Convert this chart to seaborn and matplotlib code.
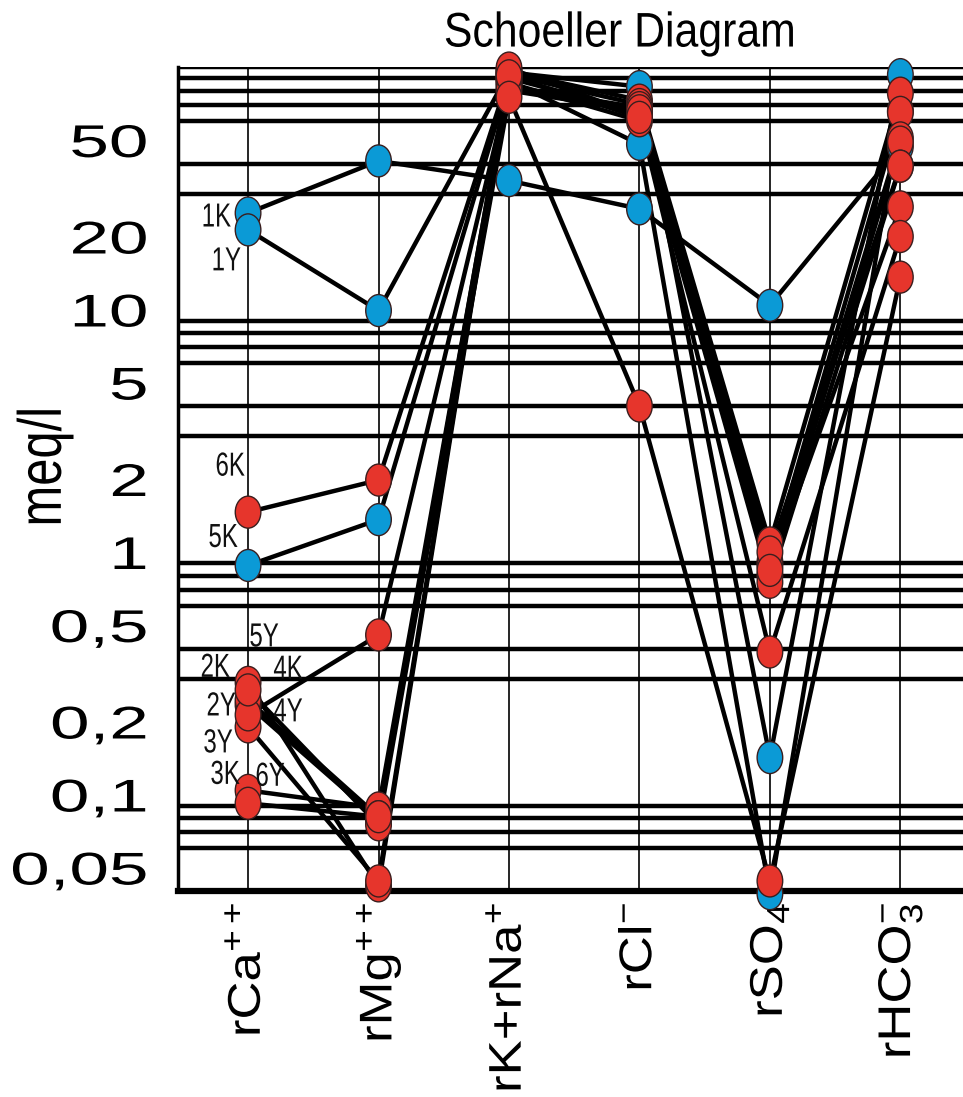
import numpy as np
import pandas as pd
import matplotlib
matplotlib.use("Agg")
import matplotlib.pyplot as plt
import seaborn as sns
from matplotlib.path import Path
from matplotlib.transforms import Affine2D
from matplotlib.patheffects import AbstractPathEffect
from matplotlib.ticker import LogLocator, NullFormatter

# ---------------- data ----------------
ions = ["rCa", "rMg", "rK+rNa", "rCl", "rSO4", "rHCO3"]
ion_labels = [r"rCa$^{++}$", r"rMg$^{++}$", r"rK+rNa$^{+}$", r"rCl$^{-}$",
              r"rSO$_{4}$", r"rHCO$_{3}^{-}$"]
samples = ["1K", "1Y", "5K", "2K", "2Y", "3K", "3Y", "4K", "4Y", "5Y", "6K", "6Y"]
groups = ["blue", "blue", "blue", "red", "red", "red", "red", "red", "red", "red", "red", "red"]

rCa = [25, 21.3, 0.88, 0.29, 0.234, 0.104, 0.19, 0.245, 0.213, 0.27, 1.46, 0.092]
rMg = [41, 9.9, 1.36, 0.042, 0.079, 0.088, 0.044, 0.081, 0.455, 0.075, 1.98, 0.081]
rKNa = [34, 95, 88, 96, 93, 90, 99, 86, 83, 80, 92, 75]
rCl = [26, 83, 48, 73, 70, 65, 63, 60, 68, 66, 62, 4.0]
rSO4 = [10.4, 0.142, 0.039, 1.09, 0.91, 0.88, 0.80, 0.75, 1.0, 0.84, 0.387, 0.044]
rHCO3 = [47, 93, 66, 78, 65, 51, 49, 39, 39, 26.5, 20, 13.6]

ytick_values = [0.05, 0.1, 0.2, 0.5, 1, 2, 5, 10, 20, 50]
ytick_labels = ["0,05", "0,1", "0,2", "0,5", "1", "2", "5", "10", "20", "50"]

# label offsets (pixels) of the sample names relative to their rCa point
label_offsets = {"1K": (-32, -5), "1Y": (-22, -32), "6K": (-18, 45), "5K": (-25, 27),
                 "5Y": (16, 52), "2K": (-33, 14), "4K": (40, 30), "2Y": (-27, -2),
                 "4Y": (40, 2), "3Y": (-30, -17), "3K": (-23, 15), "6Y": (22, 26)}

BLUE = "#0B9AD6"
RED = "#E6352C"
EDGE = "#3a1e1e"


class Stretch(AbstractPathEffect):
    """Horizontally stretch text glyphs (in the text's own frame)."""

    def __init__(self, sx, anchor="center"):
        super().__init__()
        self.sx = sx
        self.anchor = anchor

    def draw_path(self, renderer, gc, tpath, affine, rgbFace=None):
        ext = tpath.get_extents()
        if self.anchor == "right":
            x0 = ext.x1
        elif self.anchor == "left":
            x0 = ext.x0
        else:
            x0 = 0.5 * (ext.x0 + ext.x1)
        pre = Affine2D().translate(-x0, 0).scale(self.sx, 1.0).translate(x0, 0)
        renderer.draw_path(gc, tpath, pre + affine, rgbFace)


sns.set_theme(style="white")
plt.rcParams["font.family"] = ["Liberation Sans", "DejaVu Sans"]
plt.rcParams["mathtext.fontset"] = "custom"
plt.rcParams["mathtext.rm"] = "Liberation Sans"
plt.rcParams["mathtext.it"] = "Liberation Sans:italic"
plt.rcParams["mathtext.bf"] = "Liberation Sans:bold"
plt.rcParams["mathtext.default"] = "regular"

values = {"rCa": rCa, "rMg": rMg, "rK+rNa": rKNa, "rCl": rCl, "rSO4": rSO4, "rHCO3": rHCO3}
rows = []
for i, s in enumerate(samples):
    for j, ion in enumerate(ions):
        rows.append({"sample": s, "group": groups[i], "pos": j, "ion": ion,
                     "value": values[ion][i]})
df = pd.DataFrame(rows)

W, H = 963, 1097
fig = plt.figure(figsize=(W / 100, H / 100), dpi=100)
ax = fig.add_axes([178 / W, 1 - 891 / H, 1 - 178 / W, (891 - 67) / H])
ax.set_yscale("log")

sns.lineplot(data=df, x="pos", y="value", units="sample", estimator=None,
             color="black", lw=3.2, sort=False, legend=False, ax=ax,
             zorder=3, clip_on=False)

ellipse = Affine2D().scale(0.8, 1.0).transform_path(Path.unit_circle())
sns.scatterplot(data=df, x="pos", y="value", hue="group",
                palette={"blue": BLUE, "red": RED}, marker=ellipse, s=530,
                edgecolor=EDGE, linewidth=1.0, legend=False, ax=ax,
                zorder=4, clip_on=False)

ax.set_ylim(0.04, 100)
ax.set_xlim(-0.537, 5.48)

ax.set_yticks(ytick_values, ytick_labels)
ax.yaxis.set_minor_locator(LogLocator(base=10, subs=np.arange(1, 10), numticks=60))
ax.yaxis.set_minor_formatter(NullFormatter())
ax.set_xticks(range(len(ions)), ion_labels)

ax.yaxis.grid(True, which="minor", color="black", lw=3.2)
ax.yaxis.grid(False, which="major")
ax.xaxis.grid(True, which="major", color="black", lw=1.2)
ax.set_axisbelow(True)

for side in ["top", "right"]:
    ax.spines[side].set_visible(False)
ax.spines["left"].set_color("black")
ax.spines["left"].set_linewidth(2.5)
ax.spines["bottom"].set_color("black")
ax.spines["bottom"].set_linewidth(4.5)

ax.tick_params(axis="both", which="both", length=0)
ax.tick_params(axis="y", labelsize=33, pad=22, colors="black")
ax.tick_params(axis="x", labelsize=33, pad=8, colors="black", labelrotation=90)

for lab in ax.get_yticklabels():
    lab.set_path_effects([Stretch(1.55, "right")])
for lab in ax.get_xticklabels():
    lab.set_path_effects([Stretch(1.15, "right")])

ax.set_xlabel("")
ax.set_ylabel("meq/l", fontsize=44, color="black")
ax.yaxis.set_label_coords(-0.169, 0.515)
ax.yaxis.label.set_va("center")
ax.yaxis.label.set_path_effects([Stretch(0.8)])

ax.text(0.563, 1.04, "Schoeller Diagram", transform=ax.transAxes,
        ha="center", va="center", fontsize=35, color="black",
        path_effects=[Stretch(0.88)])

for i, s in enumerate(samples):
    dx, dy = label_offsets[s]
    ax.annotate(s, xy=(0, rCa[i]), xytext=(dx, dy), textcoords="offset pixels",
                ha="center", va="center", fontsize=24, color="#111111",
                path_effects=[Stretch(0.72)], zorder=6)

fig.savefig("out.png", dpi=100)
